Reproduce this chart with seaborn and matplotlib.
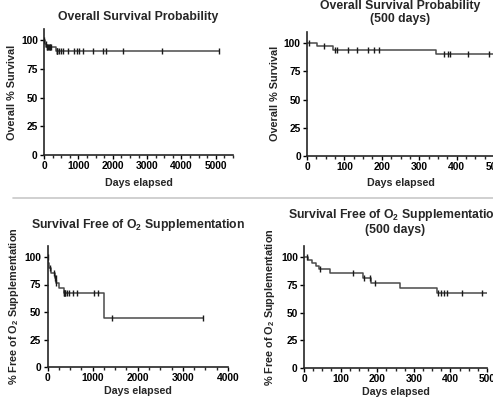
import matplotlib
matplotlib.use("Agg")
import matplotlib.pyplot as plt
from matplotlib.lines import Line2D
from matplotlib.ticker import MultipleLocator
import numpy as np
import pandas as pd
import seaborn as sns

# %% data

# overall survival: event times (days) and KM level after each event (%)
os_times = [0, 27, 70, 344]
os_surv = [100, 97.1, 94.1, 90.4]
os_censor = [5, 45, 76, 80, 110, 134, 164, 180, 193, 366, 378, 382, 430, 486, 540,
             700, 870, 960, 1020, 1135, 1440, 1710, 1790, 2290, 3440, 5100]

# survival free of O2 supplementation
o2_times = [0, 12, 22, 32, 42, 72, 160, 183, 262, 364, 1245]
o2_surv = [100, 97.4, 94.9, 92.3, 89.7, 85.3, 81.0, 76.8, 72.0, 67.3, 44.9]
o2_censor = [7, 45, 134, 165, 180, 194, 366, 375, 382, 392, 432, 487, 560, 650,
             1030, 1130, 1420, 3450]

ylabels = ["Overall % Survival", r"% Free of O$_\mathbf{2}$ Supplementation"]
titles = ["Overall Survival Probability",
          "Overall Survival Probability\n(500 days)",
          r"Survival Free of O$_\mathbf{2}$ Supplementation",
          "Survival Free of O$_\\mathbf{2}$ Supplementation\n(500 days)"]


def km_frames(times, surv, censor):
    end = max(censor)
    curve = pd.DataFrame({"days": list(times) + [end], "pct": list(surv) + [surv[-1]]})
    idx = np.searchsorted(times, censor, side="right") - 1
    marks = pd.DataFrame({"days": censor, "pct": np.asarray(surv)[idx]})
    return curve, marks


# %% style

sns.set_style("ticks")
plt.rcParams["font.family"] = ["Liberation Sans", "DejaVu Sans"]
plt.rcParams["font.weight"] = "bold"
plt.rcParams["mathtext.fontset"] = "custom"
plt.rcParams["mathtext.rm"] = "Liberation Sans:bold"
plt.rcParams["mathtext.bf"] = "Liberation Sans:bold"
plt.rcParams["axes.linewidth"] = 1.2
plt.rcParams["xtick.major.width"] = 1.0
plt.rcParams["ytick.major.width"] = 1.0
plt.rcParams["xtick.minor.width"] = 1.0
plt.rcParams["xtick.major.size"] = 3
plt.rcParams["ytick.major.size"] = 3
plt.rcParams["xtick.minor.size"] = 2.2
plt.rcParams["xtick.major.pad"] = 1.5
plt.rcParams["ytick.major.pad"] = 1.5

W, H = 493, 397
fig = plt.figure(figsize=(W / 100, H / 100), dpi=100)
fig.patch.set_facecolor("white")


def px_axes(left, right, top, bottom):
    return fig.add_axes([left / W, (H - bottom) / H, (right - left) / W, (bottom - top) / H])


panels = [
    dict(box=(44, 233, 29, 155), data=(os_times, os_surv, os_censor), xmax=5500,
         major=1000, minor=250, title=titles[0], pad=6.3, ylab=ylabels[0], xpad=4.5),
    dict(box=(307, 494, 31.7, 156), data=(os_times, os_surv, os_censor), xmax=500,
         major=100, minor=25, title=titles[1], pad=7.3, ylab=ylabels[0], xpad=4.5),
    dict(box=(47.5, 228, 246, 367), data=(o2_times, o2_surv, o2_censor), xmax=4000,
         major=1000, minor=250, title=titles[2], pad=13, ylab=ylabels[1], xpad=2),
    dict(box=(304, 487, 246, 368), data=(o2_times, o2_surv, o2_censor), xmax=500,
         major=100, minor=25, title=titles[3], pad=9.7, ylab=ylabels[1], xpad=2),
]

for p in panels:
    ax = px_axes(*p["box"])
    curve, marks = km_frames(*p["data"])
    sns.lineplot(data=curve, x="days", y="pct", drawstyle="steps-post", estimator=None,
                 sort=False, color="#4a4a4a", linewidth=1.1, ax=ax)
    sns.scatterplot(data=marks, x="days", y="pct", marker="|", s=14, color="#1a1a1a",
                    linewidth=1.0, ax=ax, zorder=3)
    ax.set_xlim(0, p["xmax"])
    ax.set_ylim(0, 110)
    ax.xaxis.set_major_locator(MultipleLocator(p["major"]))
    ax.xaxis.set_minor_locator(MultipleLocator(p["minor"]))
    ax.set_yticks([0, 25, 50, 75, 100])
    ax.tick_params(labelsize=7.4, colors="black")
    sns.despine(ax=ax)
    ax.set_title(p["title"], fontsize=8.8, fontweight="bold", pad=p["pad"], linespacing=1.1)
    ax.set_xlabel("Days elapsed", fontsize=7.7, fontweight="bold", labelpad=p["xpad"])
    ax.set_ylabel(p["ylab"], fontsize=7.8, fontweight="bold", labelpad=2.5)

fig.add_artist(Line2D([13 / W, 1.0], [(H - 197.5) / H] * 2, color="#c8c8c8", linewidth=1.2))

fig.savefig("out.png", dpi=100, facecolor="w")
